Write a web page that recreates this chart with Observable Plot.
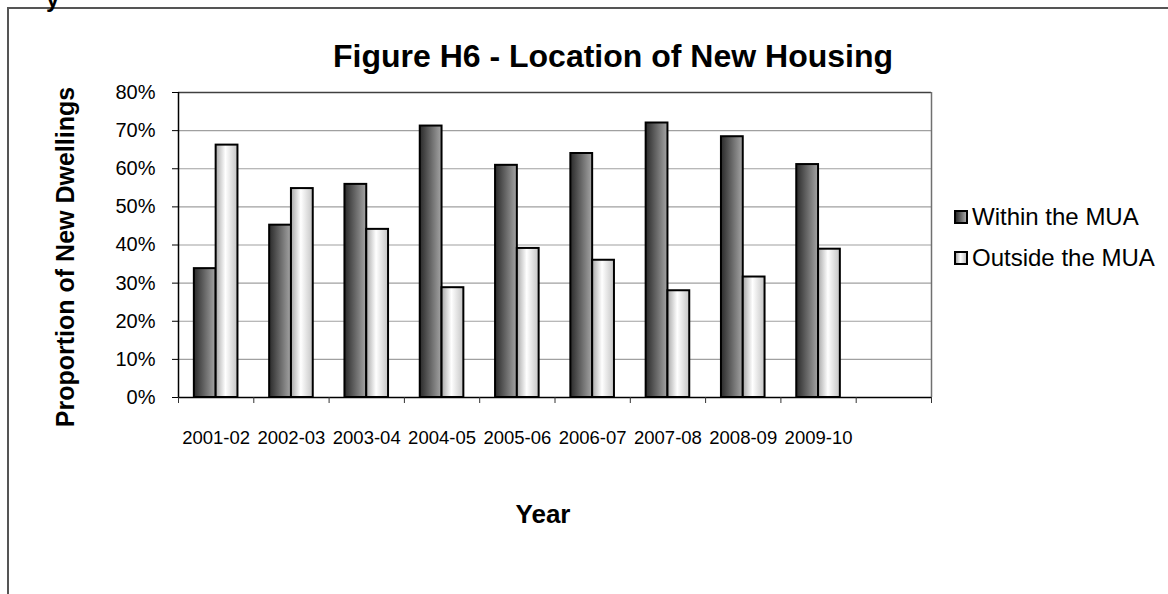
<!DOCTYPE html>
<html>
<head>
<meta charset="utf-8">
<script src="https://cdn.jsdelivr.net/npm/d3@7"></script>
<script src="https://cdn.jsdelivr.net/npm/@observablehq/plot@0.6"></script>
<style>
html, body { margin: 0; padding: 0; background: #fff; }
#wrap { position: relative; width: 1168px; height: 594px; overflow: hidden;
  font-family: "Liberation Sans", Arial, sans-serif; color: #000; }
#frame { position: absolute; left: 7px; top: 7px; width: 2000px; height: 2000px;
  border-left: 2px solid #555; border-top: 2px solid #555; }
#chart { position: absolute; left: 0; top: 0; }
.lbl { position: absolute; line-height: 1; white-space: nowrap; transform: translate(-50%, -50%); }
.leg { position: absolute; line-height: 1; white-space: nowrap; transform: translateY(-50%); font-size: 24px; }
.sw { position: absolute; width: 14px; height: 14px; box-sizing: border-box; border: 2px solid #000; }
</style>
</head>
<body>
<div id="wrap">
  <div id="frame"></div>
  <div class="lbl" style="left:46px; top:-13px; font-size:24px; font-weight:bold; transform:none;">y</div>
  <div id="chart"></div>
  <div class="lbl" id="title" style="left:613px; top:56px; font-size:32px; font-weight:bold;"></div>
  <div class="lbl" id="ytitle" style="left:65px; top:257px; font-size:25px; font-weight:bold; transform:translate(-50%,-50%) rotate(-90deg);"></div>
  <div class="lbl" id="xtitle" style="left:543px; top:514px; font-size:26px; font-weight:bold;"></div>
  <div id="legend"></div>
</div>
<script>
// ---- data ----
const years = ["2001-02","2002-03","2003-04","2004-05","2005-06","2006-07","2007-08","2008-09","2009-10"];
const within = [33.8, 45.2, 55.9, 71.2, 60.9, 64.0, 72.0, 68.4, 61.1];
const outside = [66.2, 54.8, 44.1, 28.8, 39.1, 36.0, 28.0, 31.6, 38.9];
const slotCount = 10;
const yTicks = [0, 0.1, 0.2, 0.3, 0.4, 0.5, 0.6, 0.7, 0.8];
const seriesNames = ["Within the MUA", "Outside the MUA"];
const titleText = "Figure H6 - Location of New Housing";
const yTitleText = "Proportion of New Dwellings";
const xTitleText = "Year";

document.getElementById("title").textContent = titleText;
document.getElementById("ytitle").textContent = yTitleText;
document.getElementById("xtitle").textContent = xTitleText;

const data = years.map((year, i) => ({year, i, within: within[i] / 100, outside: outside[i] / 100}));

const defs = () => {
  const d = d3.create("svg:defs");
  const g1 = d.append("linearGradient").attr("id", "gDark").attr("x1", 0).attr("x2", 1).attr("y1", 0).attr("y2", 0);
  g1.append("stop").attr("offset", 0).attr("stop-color", "#2a2a2a");
  g1.append("stop").attr("offset", 1).attr("stop-color", "#a5a5a5");
  const g2 = d.append("linearGradient").attr("id", "gLight").attr("x1", 0).attr("x2", 1).attr("y1", 0).attr("y2", 0);
  g2.append("stop").attr("offset", 0).attr("stop-color", "#a8a8a8");
  g2.append("stop").attr("offset", 0.45).attr("stop-color", "#ffffff");
  g2.append("stop").attr("offset", 1).attr("stop-color", "#c4c4c4");
  return d.node();
};

const half = 37.65, grp = 21.8;
const chart = Plot.plot({
  width: 1168, height: 594,
  marginLeft: 178, marginRight: 237, marginTop: 92, marginBottom: 197,
  style: {fontFamily: "'Liberation Sans', Arial, sans-serif", color: "#000", background: "transparent", overflow: "visible", fontSize: "20px"},
  x: {type: "linear", domain: [0, slotCount]},
  y: {domain: [0, 0.8]},
  marks: [
    defs,
    Plot.ruleY(yTicks.filter(t => t > 0 && t < 0.8), {stroke: "#a0a0a0", strokeWidth: 1.2}),
    Plot.ruleY([0.8], {stroke: "#404040", strokeWidth: 1.5}),
    Plot.ruleX([slotCount], {stroke: "#707070", strokeWidth: 1.5}),
    Plot.rectY(data, {x1: d => d.i, x2: d => d.i + 1, y1: 0, y2: "within",
      insetLeft: half - grp, insetRight: half, fill: "url(#gDark)", stroke: "#000", strokeWidth: 2}),
    Plot.rectY(data, {x1: d => d.i, x2: d => d.i + 1, y1: 0, y2: "outside",
      insetLeft: half, insetRight: half - grp, fill: "url(#gLight)", stroke: "#000", strokeWidth: 2}),
    Plot.ruleY([0], {stroke: "#000", strokeWidth: 1.5}),
    Plot.ruleX([0], {stroke: "#000", strokeWidth: 1.5}),
    Plot.axisY({ticks: yTicks, tickSize: 6, tickPadding: 17, tickFormat: d3.format(".0%"), label: null, fontSize: 20}),
    Plot.axisX({ticks: d3.range(slotCount + 1), tickSize: 6, tickFormat: () => "", label: null, stroke: "#333"}),
    Plot.axisX({ticks: years.map((d, i) => i + 0.5), tickSize: 0, tickPadding: 33,
      tickFormat: v => years[Math.floor(v)], label: null, fontSize: 18.5})
  ]
});
document.getElementById("chart").appendChild(chart);

// legend
const legend = document.getElementById("legend");
const legY = [217, 258];
const swBg = ["linear-gradient(to right, #2a2a2a, #a5a5a5)", "linear-gradient(to right, #a8a8a8, #ffffff 45%, #c4c4c4)"];
seriesNames.forEach((name, k) => {
  const sw = document.createElement("div");
  sw.className = "sw";
  sw.style.left = "954px";
  sw.style.top = (legY[k] - 7) + "px";
  sw.style.background = swBg[k];
  legend.appendChild(sw);
  const t = document.createElement("div");
  t.className = "leg";
  t.style.left = "972px";
  t.style.top = legY[k] + "px";
  t.textContent = name;
  legend.appendChild(t);
});
</script>
</body>
</html>
